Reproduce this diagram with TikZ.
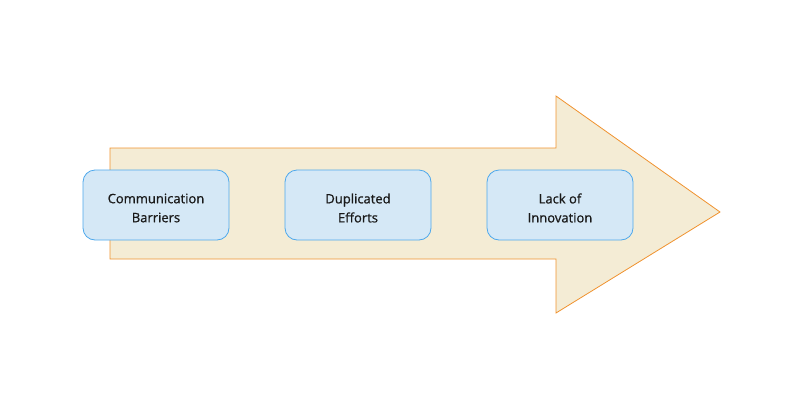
\documentclass[tikz,border=0pt]{standalone}
\usepackage{fontspec}
\setmainfont{Open Sans}
\begin{document}
\begin{tikzpicture}[x=1pt,y=-1pt,
  box/.style={draw=boxline,fill=boxfill,rounded corners=12pt,minimum width=146pt,minimum height=70pt,align=center,font=\fontsize{13}{19}\selectfont\addfontfeature{FakeBold=0.8},text=black!90,line width=0.8pt}]
\definecolor{boxfill}{HTML}{D5E8F6}
\definecolor{boxline}{HTML}{4DA8EC}
\definecolor{arrfill}{HTML}{F4ECD5}
\definecolor{arrline}{HTML}{F0922E}
\useasboundingbox (0,0) rectangle (802,410);
\draw[draw=arrline,fill=arrfill,line width=0.8pt] (110,148) -- (556,148) -- (556,96) -- (720,212) -- (556,313) -- (556,259) -- (110,259) -- cycle;
\node[box] (a) at (156,205) {};
\node[box] (b) at (358,205) {};
\node[box] (c) at (560,205) {};
\node[align=center,font=\fontsize{13}{19}\selectfont\addfontfeature{FakeBold=0.8},text=black!90] at ([yshift=-3pt]a.center) {Communication\\Barriers};
\node[align=center,font=\fontsize{13}{19}\selectfont\addfontfeature{FakeBold=0.8},text=black!90] at ([yshift=-3pt]b.center) {Duplicated\\Efforts};
\node[align=center,font=\fontsize{13}{19}\selectfont\addfontfeature{FakeBold=0.8},text=black!90] at ([yshift=-3pt]c.center) {Lack of\\Innovation};
\end{tikzpicture}
\end{document}
